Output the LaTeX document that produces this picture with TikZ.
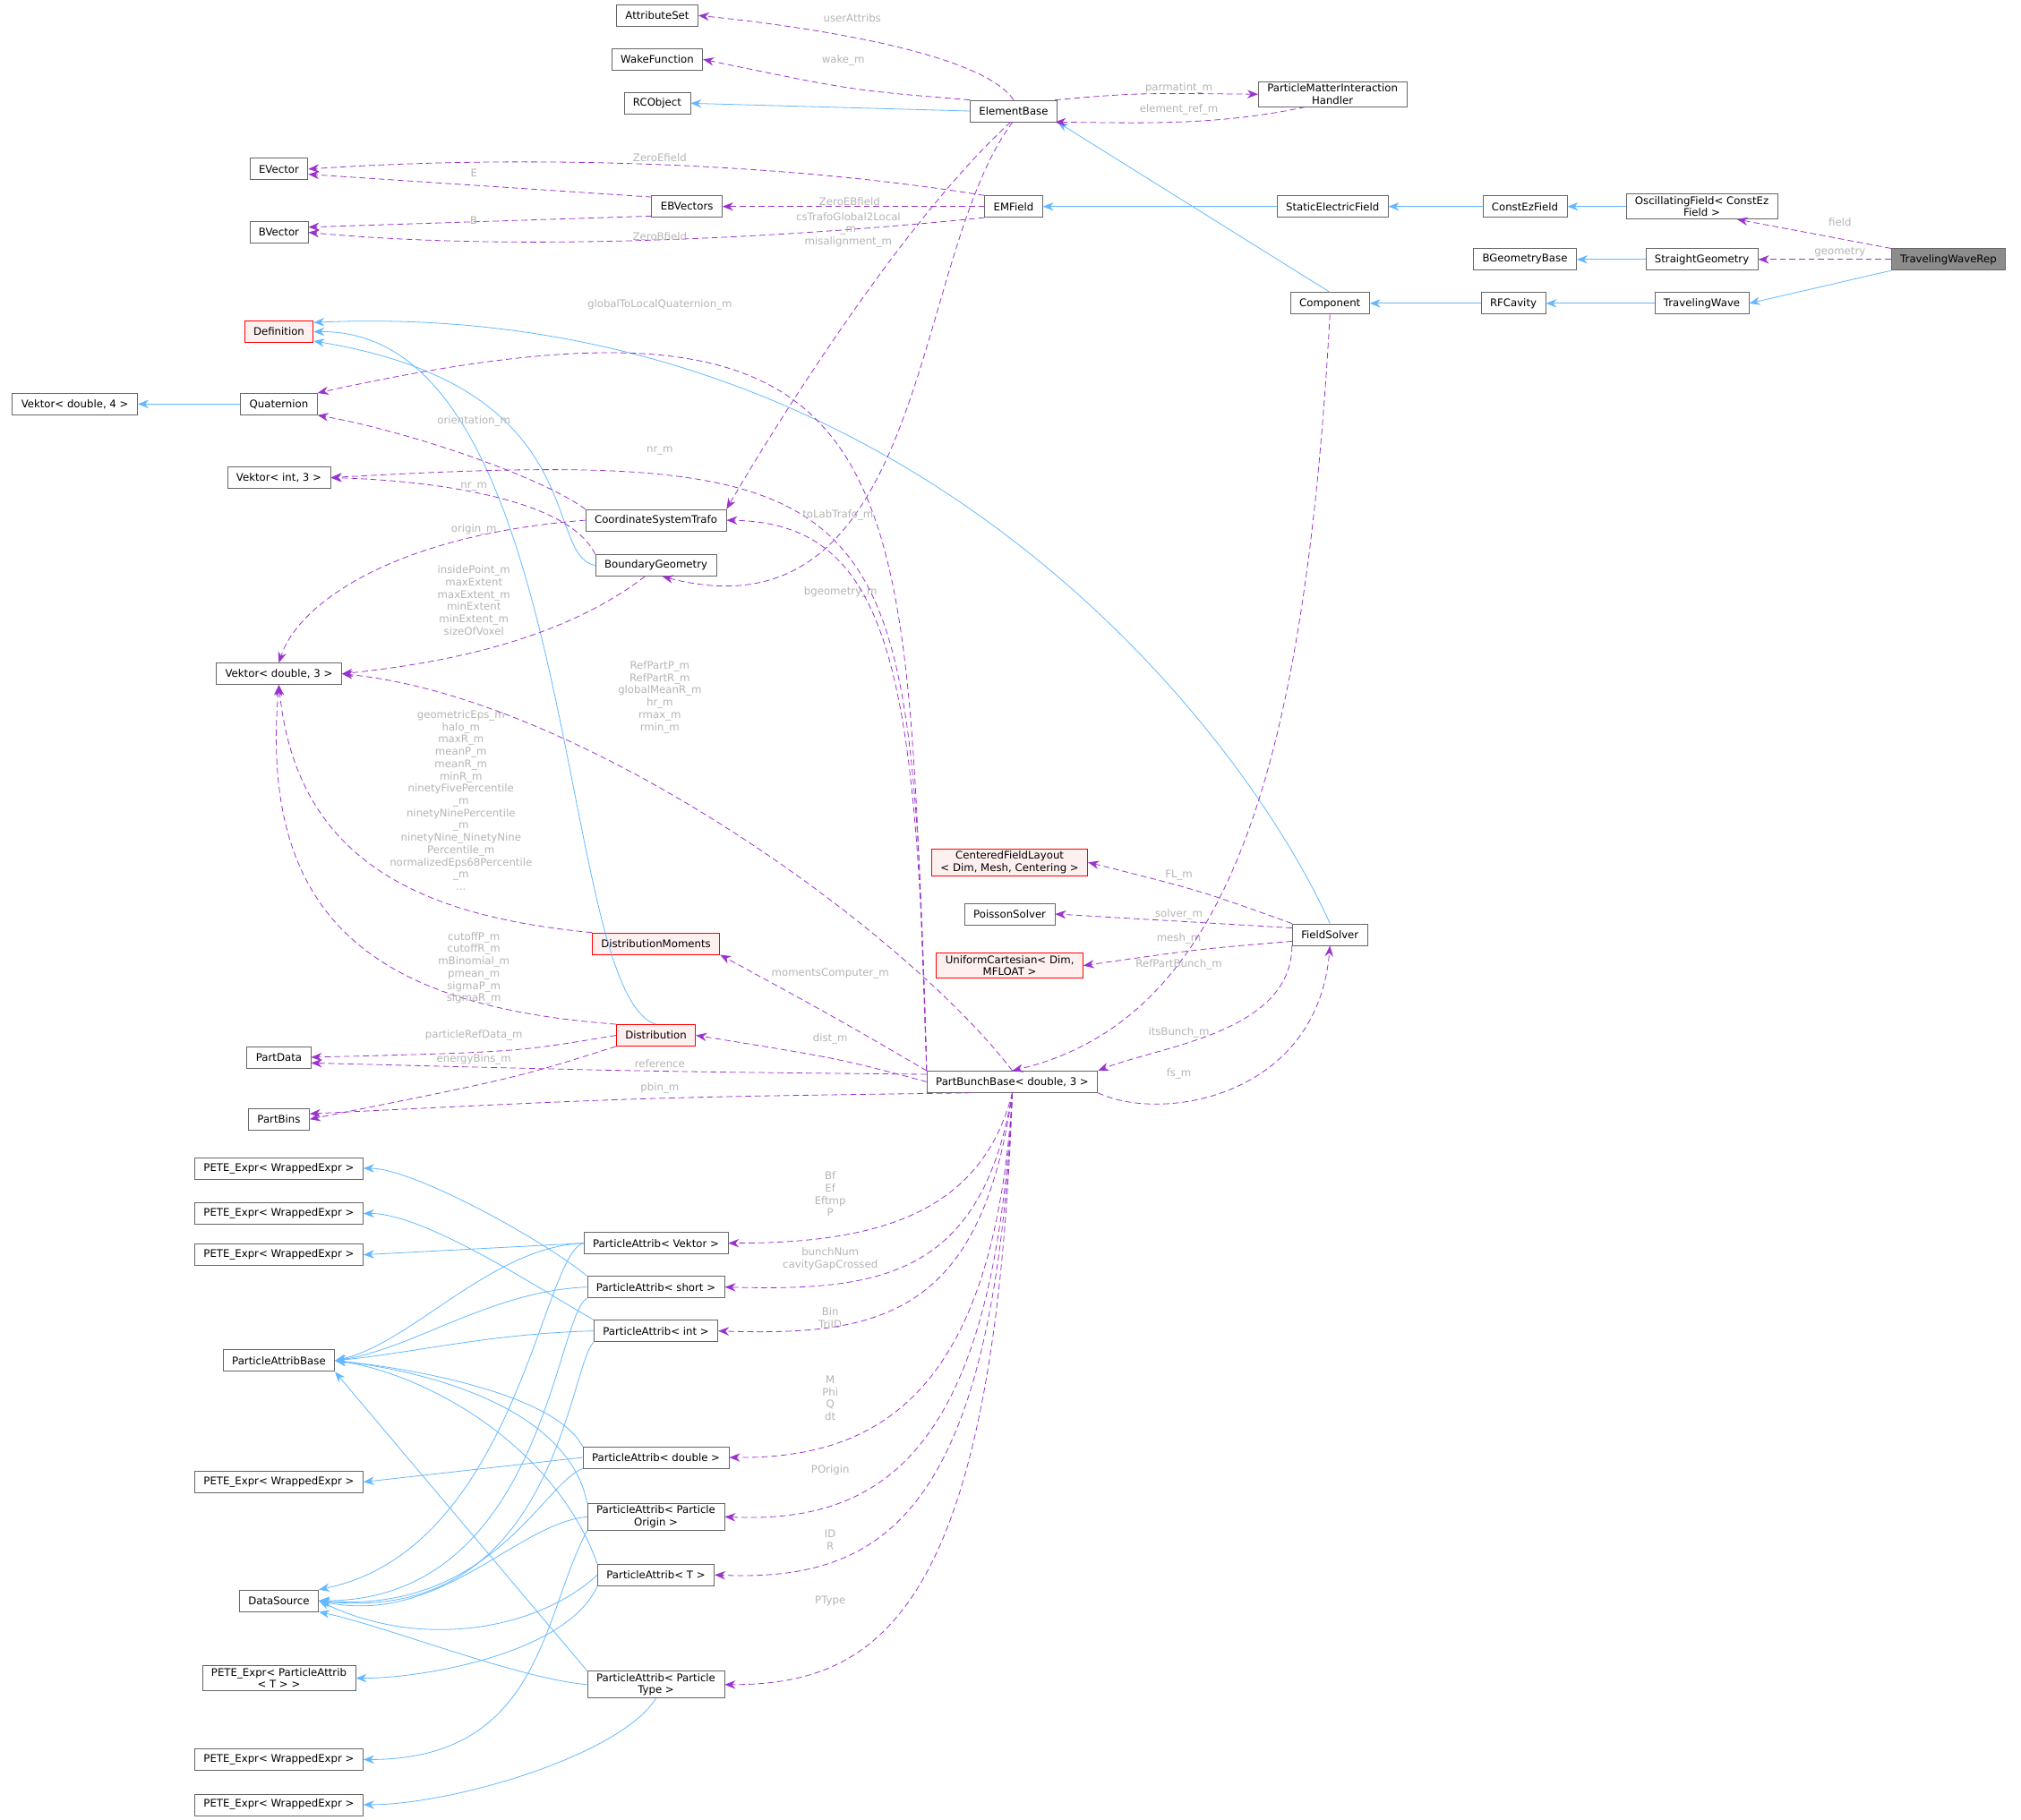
\documentclass[tikz,border=0pt]{standalone}
\usepackage{fontspec}
\setmainfont{DejaVu Sans}
\usetikzlibrary{arrows.meta}
\definecolor{inhc}{HTML}{63B8FF}
\definecolor{depc}{HTML}{9A32CD}
\definecolor{lblc}{HTML}{B4B4B4}
\definecolor{redb}{HTML}{FF0000}
\definecolor{pinkf}{HTML}{FFF0F0}
\begin{document}
\begin{tikzpicture}[x=1.0815pt,y=-1.0815pt,
  font=\fontsize{8.8}{10}\selectfont,
  box/.style={draw=black!60,fill=white,minimum height=18pt,inner xsep=7.5pt,inner ysep=2pt,align=center,line width=0.6pt},
  redbox/.style={box,draw=redb,fill=pinkf},
  inh/.style={draw=inhc,line width=0.6pt,-{Stealth[length=9pt,width=7pt]}},
  dep/.style={draw=depc,line width=0.6pt,dashed,dash pattern=on 5pt off 3pt,-{Stealth[length=9pt,width=7pt]}},
  lbl/.style={text=lblc,align=center,inner sep=0pt,font=\fontsize{8.8}{10.3}\selectfont}]
\useasboundingbox (0,0) rectangle (1565.2,1409.2);
% nodes
\node[box] (attr) at (509,12) {AttributeSet};
\node[box] (wake) at (509,46) {WakeFunction};
\node[box] (rco) at (509,80) {RCObject};
\node[box] (eb) at (785,86) {ElementBase};
\node[box] (pmi) at (1032,73) {ParticleMatterInteraction\\Handler};
\node[box] (evec) at (216,131) {EVector};
\node[box] (ebv) at (532,160) {EBVectors};
\node[box] (emf) at (785,160) {EMField};
\node[box] (bvec) at (216,180) {BVector};
\node[box] (sef) at (1032,160) {StaticElectricField};
\node[box] (cez) at (1181,160) {ConstEzField};
\node[box] (osc) at (1318,160) {OscillatingField< ConstEz\\Field >};
\node[box,fill=black!45,draw=black!60] (twr) at (1509,201) {TravelingWaveRep};
\node[box] (bgb) at (1181,201) {BGeometryBase};
\node[box] (sg) at (1318,201) {StraightGeometry};
\node[box] (comp) at (1030,235) {Component};
\node[box] (rfc) at (1172,235) {RFCavity};
\node[box] (tw) at (1318,235) {TravelingWave};
\node[redbox] (def) at (216,257) {Definition};
\node[box] (quat) at (216,313) {Quaternion};
\node[box] (v4) at (58,313) {Vektor< double, 4 >};
\node[box] (v3i) at (216,370) {Vektor< int, 3 >};
\node[box] (cst) at (508,403) {CoordinateSystemTrafo};
\node[box] (bg) at (508,438) {BoundaryGeometry};
\node[box] (v3d) at (216,522) {Vektor< double, 3 >};
\node[redbox] (cfl) at (782,668) {CenteredFieldLayout\\< Dim, Mesh, Centering >};
\node[box] (ps) at (782,708) {PoissonSolver};
\node[redbox] (uc) at (782,748) {UniformCartesian< Dim,\\MFLOAT >};
\node[box] (fs) at (1030,724) {FieldSolver};
\node[redbox] (dm) at (508,731) {DistributionMoments};
\node[redbox] (dist) at (508,802) {Distribution};
\node[box] (pd) at (216,819) {PartData};
\node[box] (pbb) at (784,838) {PartBunchBase< double, 3 >};
\node[box] (pbins) at (216,867) {PartBins};
\node[box] (pe1) at (216,905) {PETE\_Expr< WrappedExpr >};
\node[box] (pe2) at (216,940) {PETE\_Expr< WrappedExpr >};
\node[box] (pe3) at (216,972) {PETE\_Expr< WrappedExpr >};
\node[box] (pav) at (508,963) {ParticleAttrib< Vektor >};
\node[box] (pas) at (508,997) {ParticleAttrib< short >};
\node[box] (pab) at (216,1054) {ParticleAttribBase};
\node[box] (pai) at (508,1031) {ParticleAttrib< int >};
\node[box] (pe4) at (216,1148) {PETE\_Expr< WrappedExpr >};
\node[box] (pad) at (508,1129) {ParticleAttrib< double >};
\node[box] (pao) at (508,1175) {ParticleAttrib< Particle\\Origin >};
\node[box] (pat) at (508,1220) {ParticleAttrib< T >};
\node[box] (ds) at (216,1240) {DataSource};
\node[box] (pept) at (216,1300) {PETE\_Expr< ParticleAttrib\\< T > >};
\node[box] (paty) at (508,1305) {ParticleAttrib< Particle\\Type >};
\node[box] (pe5) at (216,1363) {PETE\_Expr< WrappedExpr >};
\node[box] (pe6) at (216,1398) {PETE\_Expr< WrappedExpr >};
% inheritance
\draw[inh] (eb.west) -- (rco.east);
\draw[inh] (comp.north) -- (eb.south east);
\draw[inh] (sef.west) -- (emf.east);
\draw[inh] (cez.west) -- (sef.east);
\draw[inh] (osc.west) -- (cez.east);
\draw[inh] (twr.south west) -- (tw.east);
\draw[inh] (sg.west) -- (bgb.east);
\draw[inh] (rfc.west) -- (comp.east);
\draw[inh] (tw.west) -- (rfc.east);
\draw[inh] (quat.west) -- (v4.east);
\draw[inh] (fs.north) .. controls (960,560) and (700,230) .. (def.15);
\draw[inh] (bg.west) .. controls (420,430) and (460,300) .. (def.-15);
\draw[inh] (dist.north) .. controls (430,770) and (450,255) .. (def.east);
% particle attribs
\draw[inh] (pav.west) -- (pe3.east);
\draw[inh] (pav.west) .. controls (380,966) and (320,1040) .. (pab.east);
\draw[inh] (pav.west) .. controls (420,970) and (400,1200) .. (ds.north east);
\draw[inh] (pas.north west) .. controls (420,960) and (320,905) .. (pe1.east);
\draw[inh] (pas.west) .. controls (380,1000) and (320,1045) .. (pab.east);
\draw[inh] (pas.south west) .. controls (430,1020) and (420,1240) .. (ds.east);
\draw[inh] (pai.north west) .. controls (420,1000) and (330,940) .. (pe2.east);
\draw[inh] (pai.west) .. controls (380,1033) and (320,1048) .. (pab.east);
\draw[inh] (pai.south west) .. controls (440,1060) and (430,1260) .. (ds.east);
\draw[inh] (pad.west) -- (pe4.east);
\draw[inh] (pad.north west) .. controls (430,1080) and (320,1060) .. (pab.east);
\draw[inh] (pad.south west) .. controls (420,1150) and (380,1250) .. (ds.east);
\draw[inh] (pao.north west) .. controls (440,1090) and (330,1062) .. (pab.east);
\draw[inh] (pao.west) .. controls (400,1180) and (340,1260) .. (ds.east);
\draw[inh] (pao.south west) .. controls (420,1250) and (420,1363) .. (pe5.east);
\draw[inh] (pat.north west) .. controls (430,1120) and (330,1064) .. (pab.east);
\draw[inh] (pat.west) .. controls (420,1260) and (330,1280) .. (ds.east);
\draw[inh] (pat.south west) .. controls (440,1280) and (330,1300) .. (pept.east);
\draw[inh] (paty.north west) -- (pab.south east);
\draw[inh] (paty.west) .. controls (400,1300) and (300,1260) .. (ds.south east);
\draw[inh] (paty.south) .. controls (480,1360) and (350,1398) .. (pe6.east);
% dependencies
\draw[dep] (eb.north) .. controls (760,40) and (620,20) .. (attr.east);
\node[lbl] (l1) at (660,14) {userAttribs};
\draw[dep] (eb.north west) .. controls (660,70) .. (wake.east);
\node[lbl] (l2) at (653,47) {wake\_m};
\draw[dep] (eb.15) .. controls (880,72) .. (pmi.west);
\node[lbl] (l3) at (913,68) {parmatint\_m};
\draw[dep] (pmi.-155) .. controls (940,98) and (880,95) .. (eb.-15);
\node[lbl] (l4) at (913,85) {element\_ref\_m};
\draw[dep] (emf.north west) .. controls (600,125) and (400,120) .. (evec.east);
\node[lbl] (l5) at (511,122) {ZeroEfield};
\draw[dep] (ebv.165) -- (evec.-10);
\node[lbl] (l6) at (367,134) {E};
\draw[dep] (ebv.195) -- (bvec.10);
\node[lbl] (l7) at (367,171) {B};
\draw[dep] (emf.west) -- (ebv.east);
\node[lbl] (l8) at (658,156) {ZeroEBfield};
\draw[dep] (emf.south west) .. controls (600,185) and (400,195) .. (bvec.east);
\node[lbl] (l9) at (511,183) {ZeroBfield};
\draw[dep] (eb.-105) .. controls (700,170) and (600,330) .. (cst.north east);
\node[lbl] (l10) at (657,178) {csTrafoGlobal2Local\\\_m\\misalignment\_m};
\draw[dep] (eb.-95) .. controls (705,200) and (720,500) .. (bg.-60);
\node[lbl] (l11) at (651,459) {bgeometry\_m};
\draw[dep] (twr.north west) -- (osc.-20);
\node[lbl] (l12) at (1425,172) {field};
\draw[dep] (twr.west) -- (sg.east);
\node[lbl] (l13) at (1425,195) {geometry};
\draw[dep] (pbb.north west) .. controls (700,360) and (720,200) .. (quat.north east);
\node[lbl] (l14) at (511,236) {globalToLocalQuaternion\_m};
\draw[dep] (cst.north west) .. controls (420,370) and (320,335) .. (quat.south east);
\node[lbl] (l15) at (367,326) {orientation\_m};
\draw[dep] (pbb.north west) .. controls (705,380) and (700,345) .. (v3i.east);
\node[lbl] (l16) at (511,349) {nr\_m};
\draw[dep] (bg.north west) .. controls (440,385) and (330,372) .. (v3i.east);
\node[lbl] (l17) at (367,377) {nr\_m};
\draw[dep] (cst.west) .. controls (300,415) and (230,470) .. (v3d.north);
\node[lbl] (l18) at (367,410) {origin\_m};
\draw[dep] (pbb.north west) .. controls (710,520) and (690,405) .. (cst.east);
\node[lbl] (l19) at (649,399) {toLabTrafo\_m};
\draw[dep] (bg.-135) .. controls (430,500) and (330,515) .. (v3d.east);
\node[lbl] (l20) at (367,465) {insidePoint\_m\\maxExtent\\maxExtent\_m\\minExtent\\minExtent\_m\\sizeOfVoxel};
\draw[dep] (pbb.north) .. controls (700,720) and (450,540) .. (v3d.east);
\node[lbl] (l21) at (511,540) {RefPartP\_m\\RefPartR\_m\\globalMeanR\_m\\hr\_m\\rmax\_m\\rmin\_m};
\draw[dep] (dm.north west) .. controls (330,710) and (230,670) .. (v3d.south);
\node[lbl] (l22) at (357,620) {geometricEps\_m\\halo\_m\\maxR\_m\\meanP\_m\\meanR\_m\\minR\_m\\ninetyFivePercentile\\\_m\\ninetyNinePercentile\\\_m\\ninetyNine\_NinetyNine\\Percentile\_m\\normalizedEps68Percentile\\\_m\\...};
\draw[dep] (dist.north west) .. controls (300,780) and (200,720) .. (v3d.south);
\node[lbl] (l23) at (367,750) {cutoffP\_m\\cutoffR\_m\\mBinomial\_m\\pmean\_m\\sigmaP\_m\\sigmaR\_m};
\draw[dep] (pbb.north west) .. controls (650,790) .. (dm.south east);
\node[lbl] (l24) at (643,754) {momentsComputer\_m};
\draw[dep] (dist.west) .. controls (400,815) .. (pd.east);
\node[lbl] (l25) at (367,802) {particleRefData\_m};
\draw[dep] (pbb.west) .. controls (650,820) .. (dist.east);
\node[lbl] (l26) at (643,805) {dist\_m};
\draw[dep] (pbb.175) .. controls (500,830) .. (pd.-10);
\node[lbl] (l27) at (511,824) {reference};
\draw[dep] (dist.south west) .. controls (400,835) .. (pbins.east);
\node[lbl] (l28) at (367,821) {energyBins\_m};
\draw[dep] (pbb.195) .. controls (500,850) .. (pbins.10);
\node[lbl] (l29) at (511,843) {pbin\_m};
\draw[dep] (fs.north west) .. controls (930,690) .. (cfl.east);
\node[lbl] (l30) at (913,678) {FL\_m};
\draw[dep] (fs.170) -- (ps.east);
\node[lbl] (l31) at (913,708) {solver\_m};
\draw[dep] (fs.190) .. controls (930,735) .. (uc.east);
\node[lbl] (l32) at (913,727) {mesh\_m};
\draw[dep] (comp.south) .. controls (1010,600) and (950,790) .. (pbb.north);
\node[lbl] (l33) at (913,747) {RefPartBunch\_m};
\draw[dep] (fs.south west) .. controls (1000,800) and (900,810) .. (pbb.north east);
\node[lbl] (l34) at (913,800) {itsBunch\_m};
\draw[dep] (pbb.south east) .. controls (900,870) and (1020,850) .. (fs.south);
\node[lbl] (l35) at (913,832) {fs\_m};
\draw[dep] (pbb.south) .. controls (760,940) and (680,963) .. (pav.east);
\node[lbl] (l36) at (643,925) {Bf\\Ef\\Eftmp\\P};
\draw[dep] (pbb.south) .. controls (760,990) and (680,1000) .. (pas.east);
\node[lbl] (l37) at (643,975) {bunchNum\\cavityGapCrossed};
\draw[dep] (pbb.south) .. controls (760,1020) and (680,1035) .. (pai.east);
\node[lbl] (l38) at (643,1021) {Bin\\TriID};
\draw[dep] (pbb.south) .. controls (770,1080) and (680,1130) .. (pad.east);
\node[lbl] (l39) at (643,1083) {M\\Phi\\Q\\dt};
\draw[dep] (pbb.south) .. controls (770,1130) and (680,1180) .. (pao.east);
\node[lbl] (l40) at (643,1139) {POrigin};
\draw[dep] (pbb.south) .. controls (770,1180) and (680,1225) .. (pat.east);
\node[lbl] (l41) at (643,1193) {ID\\R};
\draw[dep] (pbb.south) .. controls (770,1250) and (680,1305) .. (paty.east);
\node[lbl] (l42) at (643,1240) {PType};
\end{tikzpicture}
\end{document}
